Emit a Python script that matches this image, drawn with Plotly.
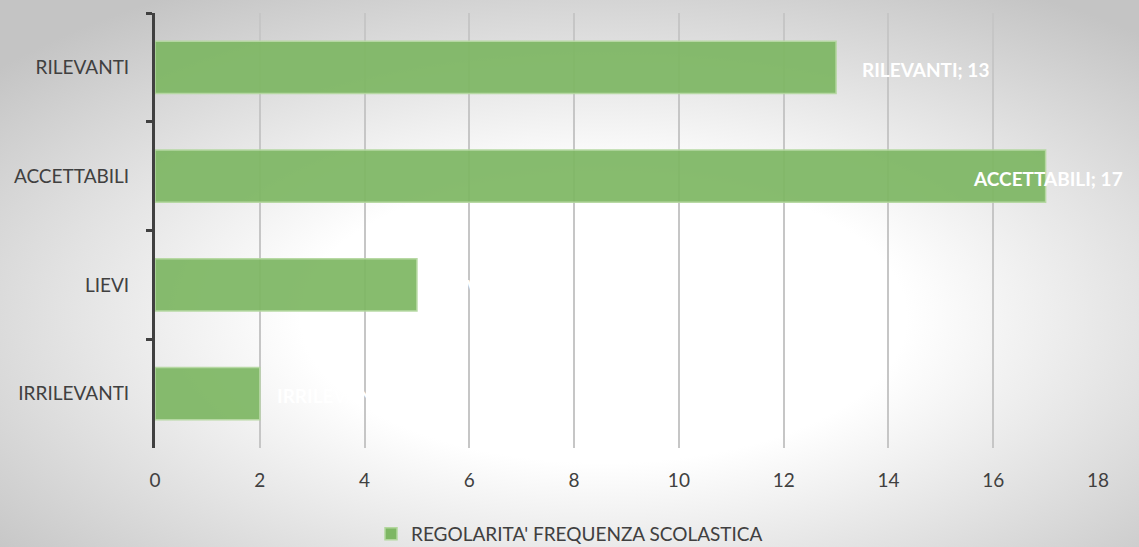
import base64
import plotly.graph_objects as go

# data (top to bottom)
categories = ["RILEVANTI", "ACCETTABILI", "LIEVI", "IRRILEVANTI"]
values = [13, 17, 5, 2]
series_name = "REGOLARITA' FREQUENZA SCOLASTICA"
x_ticks = [0, 2, 4, 6, 8, 10, 12, 14, 16, 18]

# horizontal nudge of each data label from the bar end (data units)
label_dx = [0.45, -1.43, 0.4, 0.29]

W, H = 1139, 547
margin = dict(l=155, r=41, t=13, b=99)
pw = W - margin["l"] - margin["r"]
ph = H - margin["t"] - margin["b"]

# radial grey-to-white background like the original chart area
svg = """<svg xmlns='http://www.w3.org/2000/svg' width='1139' height='547' preserveAspectRatio='none'>
<defs><radialGradient id='g' cx='53%' cy='58%' r='70%'>
<stop offset='0' stop-color='#ffffff'/>
<stop offset='0.38' stop-color='#ffffff'/>
<stop offset='1' stop-color='#c4c4c4'/>
</radialGradient></defs>
<rect width='1139' height='547' fill='url(#g)'/></svg>"""
bg_src = "data:image/svg+xml;base64," + base64.b64encode(svg.encode()).decode()

fig = go.Figure()
fig.add_trace(
    go.Bar(
        y=categories,
        x=values,
        orientation="h",
        name=series_name,
        marker=dict(
            color="#7eb764",
            opacity=0.93,
            line=dict(color="#b3d79e", width=1.5),
        ),
        showlegend=True,
        hoverinfo="x+y",
    )
)

# white bold data labels "CATEGORY; value"
for cat, val, dx in zip(categories, values, label_dx):
    fig.add_annotation(
        x=val + dx,
        y=cat,
        xref="x",
        yref="y",
        text=f"{cat}; {val}",
        showarrow=False,
        xanchor="left",
        yshift=-2,
        font=dict(family="Lato", size=19, color="#ffffff", weight="bold"),
    )

fig.add_layout_image(
    source=bg_src,
    xref="paper",
    yref="paper",
    x=-margin["l"] / pw,
    y=1 + margin["t"] / ph,
    sizex=W / pw,
    sizey=H / ph,
    xanchor="left",
    yanchor="top",
    sizing="stretch",
    layer="below",
)

fig.update_layout(
    width=W,
    height=H,
    margin=margin,
    paper_bgcolor="rgba(0,0,0,0)",
    plot_bgcolor="rgba(0,0,0,0)",
    bargap=0.52,
    font=dict(family="Lato", size=19, color="#404040"),
    showlegend=True,
    legend=dict(
        orientation="h",
        xref="container",
        yref="container",
        x=0.5,
        xanchor="center",
        y=1 - 534 / H,
        yanchor="middle",
        bgcolor="rgba(0,0,0,0)",
        font=dict(family="Lato", size=19, color="#404040"),
    ),
)
fig.update_xaxes(
    range=[0, 18],
    tickvals=x_ticks,
    showgrid=True,
    gridcolor="#c6c6c6",
    gridwidth=1.5,
    zeroline=False,
    showline=False,
    ticks="",
    ticklabelstandoff=19,
    tickfont=dict(size=19, color="#404040"),
)
fig.update_yaxes(
    type="category",
    autorange="reversed",
    showgrid=False,
    showline=True,
    linecolor="#404040",
    linewidth=3,
    ticks="outside",
    tickson="boundaries",
    ticklen=6,
    tickwidth=3,
    tickcolor="#404040",
    ticklabelstandoff=19,
    tickfont=dict(size=19, color="#404040"),
)

# drop the page's default body margin so the figure fills the window
fig.write_html(
    "out.html",
    config={"displayModeBar": False},
    post_script="document.body.style.margin='0';document.body.style.overflow='hidden';",
)
